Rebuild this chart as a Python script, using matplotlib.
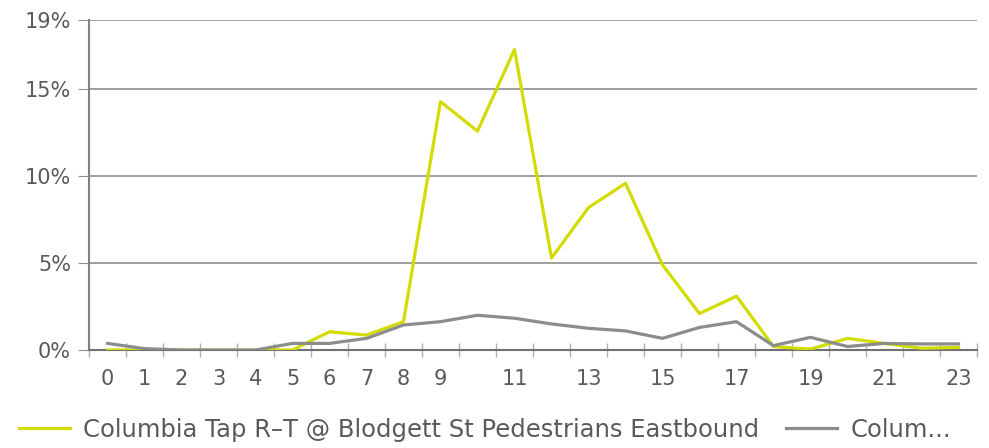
import matplotlib.pyplot as plt
import numpy as np

hours = list(range(24))
tick_labels = ["0", "1", "2", "3", "4", "5", "6", "7", "8", "9", "", "11", "",
               "13", "", "15", "", "17", "", "19", "", "21", "", "23"]
eastbound = [0.0, 0.0, 0.0, 0.0, 0.0, 0.0, 1.05, 0.86, 1.63, 14.3, 12.6, 17.3,
             5.3, 8.2, 9.6, 4.9, 2.1, 3.1, 0.2, 0.05, 0.67, 0.38, 0.1, 0.15]
other = [0.38, 0.08, 0.0, 0.0, 0.0, 0.38, 0.38, 0.67, 1.44, 1.63, 2.0, 1.83,
         1.5, 1.25, 1.1, 0.67, 1.3, 1.63, 0.25, 0.73, 0.2, 0.38, 0.35, 0.35]
labels = ["Columbia Tap R\u2013T @ Blodgett St Pedestrians Eastbound", "Colum..."]
y_ticks = [0, 5, 10, 15, 19]

text_color = "#5a5a5a"
fig = plt.figure(figsize=(9.89, 4.48), dpi=100)
ax = fig.add_axes([89 / 989, 1 - 350 / 448, 888 / 989, 330 / 448])

x = np.arange(len(hours))
ax.plot(x, eastbound, color="#d3dc00", linewidth=2.3, label=labels[0], zorder=3)
ax.plot(x, other, color="#8c8c8c", linewidth=2.3, label=labels[1], zorder=3)

ax.set_xlim(-0.5, 23.5)
ax.set_ylim(0, 19)
ax.set_yticks(y_ticks)
ax.set_yticklabels([f"{v}%" for v in y_ticks])
ax.set_xticks(x)
ax.set_xticklabels(tick_labels)
ax.set_xticks(np.arange(-0.5, 24, 1), minor=True)
ax.tick_params(axis="x", which="major", length=0, pad=14, labelsize=15,
               labelcolor=text_color)
ax.tick_params(axis="x", which="minor", length=10, direction="inout",
               color="#b0b0b0", width=1)
ax.tick_params(axis="y", length=8, color="#909090", labelsize=15,
               labelcolor=text_color, pad=5)
ax.grid(axis="y", color="#8f8f8f", linewidth=1.2)
for side in ("top", "right"):
    ax.spines[side].set_visible(False)
ax.spines["left"].set_color("#808080")
ax.spines["left"].set_linewidth(1.5)
ax.spines["bottom"].set_color("#707070")
ax.spines["bottom"].set_linewidth(1.5)

fig.legend(loc="lower left", bbox_to_anchor=(-0.003, -0.035), ncol=2,
           frameon=False, fontsize=17.5, labelcolor=text_color,
           handlelength=2.1, handletextpad=0.55, columnspacing=1.1)

fig.savefig("out.png", dpi=100)
